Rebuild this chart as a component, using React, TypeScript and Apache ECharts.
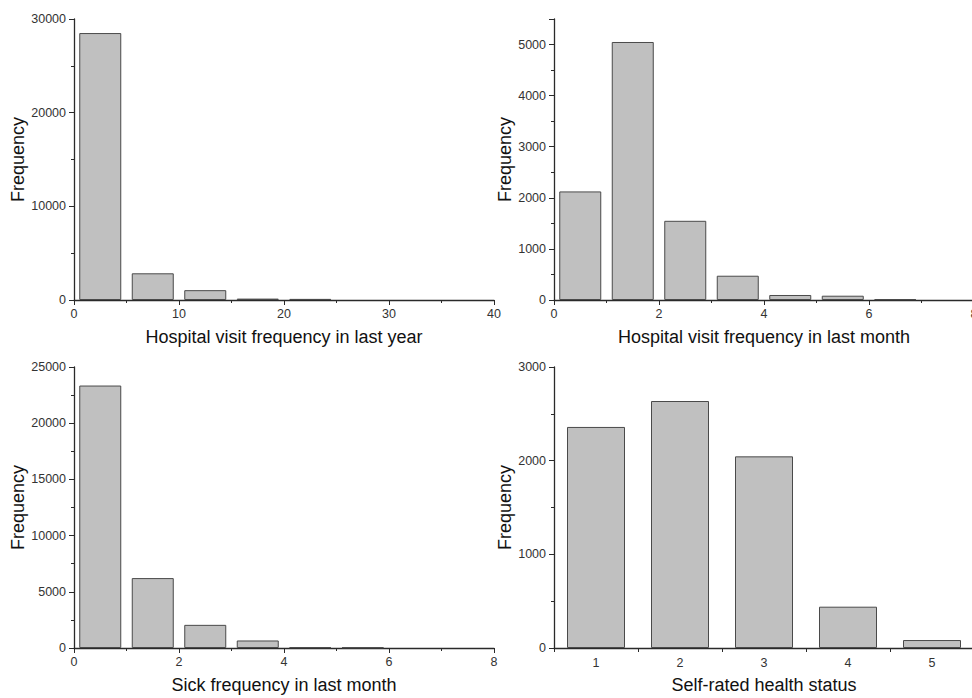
import React, { useEffect, useRef } from "react";
import * as echarts from "echarts";

// Panel 1: hospital visits in last year (bins of width 5)
const yearBinCenters = [2.5, 7.5, 12.5, 17.5, 22.5];
const yearValues = [28500, 2850, 1050, 150, 120];

// Panel 2: hospital visits in last month (bins of width 1)
const monthVisitCenters = [0.5, 1.5, 2.5, 3.5, 4.5, 5.5, 6.5];
const monthVisitValues = [2125, 5050, 1550, 475, 98, 84, 15];

// Panel 3: sick frequency in last month
const sickCenters = [0.5, 1.5, 2.5, 3.5, 4.5, 5.5];
const sickValues = [23350, 6220, 2060, 670, 60, 45];

// Panel 4: self-rated health status
const healthCategories = ["1", "2", "3", "4", "5"];
const healthValues = [2360, 2637, 2046, 441, 85];

const titles = [
  "Hospital visit frequency in last year",
  "Hospital visit frequency in last month",
  "Sick frequency in last month",
  "Self-rated health status",
];

const FONT = "Arial, 'Liberation Sans', sans-serif";
const AXIS_COLOR = "#2a2a2a";
const plain = (v: number) => String(v);

function valueXAxis(gridIndex: number, max: number, interval: number, name: string) {
  return {
    type: "value",
    gridIndex,
    min: 0,
    max,
    interval,
    name,
    nameLocation: "middle",
    nameGap: 28,
    nameTextStyle: { fontFamily: FONT, fontSize: 18, color: "#111" },
    axisLine: { show: true, onZero: false, lineStyle: { color: AXIS_COLOR, width: 1.3 } },
    axisTick: { show: true, inside: false, length: 5, lineStyle: { color: AXIS_COLOR } },
    minorTick: { show: true, splitNumber: 2, length: 3, lineStyle: { color: AXIS_COLOR } },
    axisLabel: { fontFamily: FONT, fontSize: 12.5, color: "#333", margin: 7, formatter: plain },
    splitLine: { show: false },
  };
}

function valueYAxis(gridIndex: number, max: number, interval: number, nameGap: number, hideMax = false) {
  return {
    type: "value",
    gridIndex,
    min: 0,
    max,
    interval,
    name: "Frequency",
    nameLocation: "middle",
    nameGap,
    nameTextStyle: { fontFamily: FONT, fontSize: 18, color: "#111" },
    axisLine: { show: true, lineStyle: { color: AXIS_COLOR, width: 1.3 } },
    axisTick: { show: true, inside: false, length: 5, lineStyle: { color: AXIS_COLOR } },
    minorTick: { show: true, splitNumber: 2, length: 3, lineStyle: { color: AXIS_COLOR } },
    axisLabel: { fontFamily: FONT, fontSize: 12.5, color: "#333", margin: 8, showMaxLabel: !hideMax, formatter: plain },
    splitLine: { show: false },
  };
}

const barStyle = { color: "#c0c0c0", borderColor: "#4a4a4a", borderWidth: 1 };

const gridBase = { outerBoundsMode: "none", containLabel: false, width: 420, height: 281 };

export default function App() {
  const ref = useRef<HTMLDivElement>(null);
  useEffect(() => {
    if (!ref.current) return;
    const chart = echarts.init(ref.current, null, { renderer: "svg" });
    const option = {
      animation: false,
      backgroundColor: "#ffffff",
      grid: [
        { ...gridBase, left: 74, top: 19 },
        { ...gridBase, left: 554, top: 19 },
        { ...gridBase, left: 74, top: 367 },
        { ...gridBase, left: 554, top: 367 },
      ],
      xAxis: [
        valueXAxis(0, 40, 10, titles[0]),
        valueXAxis(1, 8, 2, titles[1]),
        valueXAxis(2, 8, 2, titles[2]),
        {
          type: "category",
          gridIndex: 3,
          data: healthCategories,
          name: titles[3],
          nameLocation: "middle",
          nameGap: 28,
          nameTextStyle: { fontFamily: FONT, fontSize: 18, color: "#111" },
          axisLine: { show: true, onZero: false, lineStyle: { color: AXIS_COLOR, width: 1.3 } },
          axisTick: { show: true, inside: false, length: 4, lineStyle: { color: AXIS_COLOR } },
          axisLabel: { fontFamily: FONT, fontSize: 12.5, color: "#333", margin: 8 },
          splitLine: { show: false },
        },
      ],
      yAxis: [
        valueYAxis(0, 30000, 10000, 41),
        valueYAxis(1, 5500, 1000, 35, true),
        valueYAxis(2, 25000, 5000, 41),
        valueYAxis(3, 3000, 1000, 35),
      ],
      series: [
        {
          type: "bar",
          xAxisIndex: 0,
          yAxisIndex: 0,
          barWidth: 42,
          itemStyle: barStyle,
          data: yearBinCenters.map((x, i) => [x, yearValues[i]]),
        },
        {
          type: "bar",
          xAxisIndex: 1,
          yAxisIndex: 1,
          barWidth: 42,
          itemStyle: barStyle,
          data: monthVisitCenters.map((x, i) => [x, monthVisitValues[i]]),
        },
        {
          type: "bar",
          xAxisIndex: 2,
          yAxisIndex: 2,
          barWidth: 42,
          itemStyle: barStyle,
          data: sickCenters.map((x, i) => [x, sickValues[i]]),
        },
        {
          type: "bar",
          xAxisIndex: 3,
          yAxisIndex: 3,
          barWidth: 58,
          itemStyle: barStyle,
          data: healthValues,
        },
      ],
    };
    chart.setOption(option as any);
    return () => chart.dispose();
  }, []);
  return (
    <div
      ref={ref}
      style={{ position: "fixed", left: 0, top: 0, width: 972, height: 698, background: "#fff" }}
    />
  );
}
